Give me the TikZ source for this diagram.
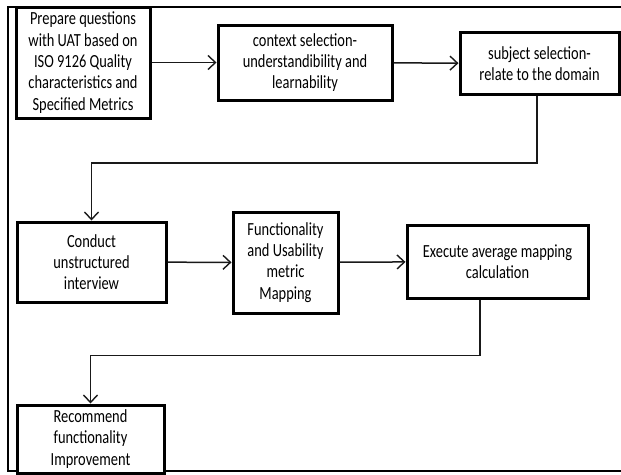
\documentclass[tikz,border=0pt]{standalone}
\usepackage{fontspec}
\setmainfont{Carlito}[FakeStretch=0.78]
\usetikzlibrary{arrows.meta}
\begin{document}
\begin{tikzpicture}[x=1pt, y=-1pt,
  font=\fontsize{18.5}{21.3}\selectfont,
  proc/.style={draw=black, line width=3pt, align=center, inner sep=0pt, fill=white},
  arr/.style={-{Straight Barb[length=7.5pt, width=14pt, line width=1.4pt]}, line width=1.5pt, draw=black!90},
  frame/.style={draw=black, line cap=rect},
]
\useasboundingbox (0,0) rectangle (621,474);
% outer frame
\draw[frame, line width=2.5pt] (8,7) -- (623,7);
\draw[frame, line width=1.2pt] (8,7) -- (8,471);
\draw[frame, line width=2.8pt] (8,471) -- (623,471);
% first row
\node[proc, minimum width=134pt, minimum height=111pt] (prep) at (83,62.5)
  {Prepare questions\\with UAT based on\\ISO 9126 Quality\\characteristics and\\Specified Metrics};
\node[proc, minimum width=174pt, minimum height=75pt] (ctx) at (305,62.5)
  {context selection-\\understandibility and\\learnability};
\node[proc, minimum width=159pt, minimum height=62pt] (subj) at (539.5,63.5)
  {subject selection-\\relate to the domain};
% second row
\node[proc, minimum width=149pt, minimum height=80pt] (cond) at (91.5,262)
  {Conduct\\unstructured\\interview};
\node[proc, minimum width=105pt, minimum height=101pt] (func) at (285.5,262.5)
  {Functionality\\and Usability\\metric\\Mapping};
\node[proc, minimum width=181pt, minimum height=73pt] (exec) at (497.5,261.5)
  {Execute average mapping\\calculation};
% last row
\node[proc, minimum width=147pt, minimum height=68pt] (rec) at (90.5,439)
  {Recommend\\functionality\\Improvement};
\draw[arr] (prep) -- (ctx);
\draw[arr] (ctx) -- (subj);
\draw[arr] ([xshift=-2.5pt]subj.south) -- ++(0,67) -| (cond.north);
\draw[arr] (cond) -- (func);
\draw[arr] (func) -- (exec);
\draw[arr] ([xshift=-17.5pt]exec.south) -- ++(0,56) -| (rec.north);
\end{tikzpicture}
\end{document}
